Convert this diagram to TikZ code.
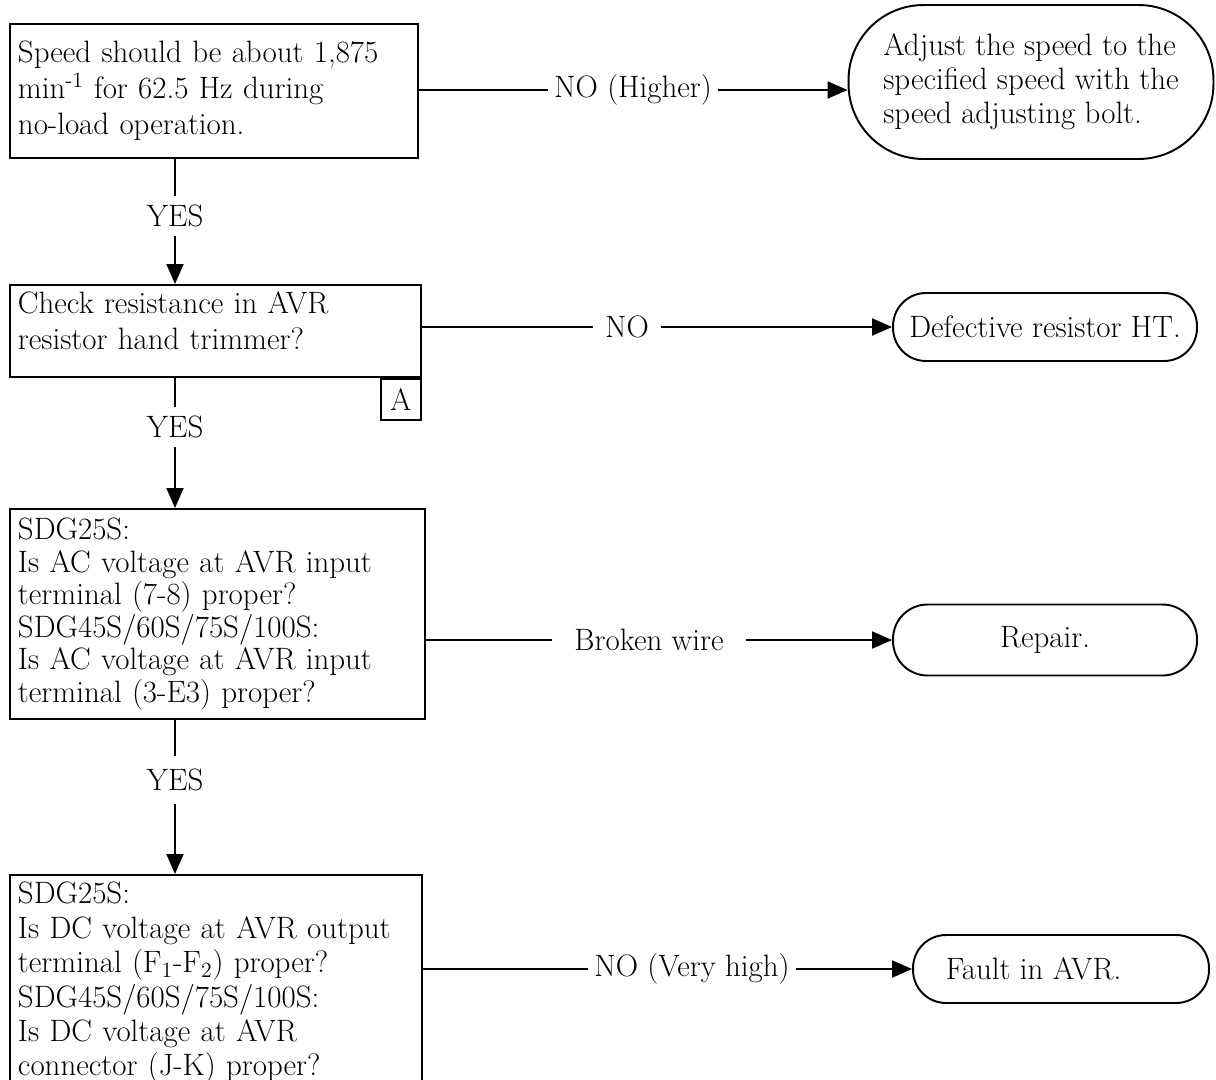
\documentclass[tikz,border=0pt]{standalone}
\usetikzlibrary{arrows.meta}

\begin{document}
\begin{tikzpicture}[x=0.02cm,y=-0.02cm,
    every node/.style={font=\fontsize{17.6}{20.5}\selectfont},
    qbox/.style={draw,line width=1.1pt,anchor=north west,align=left,inner xsep=0.16cm,inner ysep=0pt},
    endbox/.style={draw,line width=1.1pt,rounded corners=#1,align=center,inner sep=0pt},
    lbl/.style={inner xsep=0.1cm,inner ysep=0.18cm},
    conn/.style={line width=1.1pt},
    arr/.style={line width=1.1pt,-{Triangle[length=0.4cm,width=0.34cm]}}]
    \useasboundingbox (0,0) rectangle (1216,1079);
    \clip (0,0) rectangle (1216,1079);

    % question boxes down the left side
    \node[qbox,text width=7.84cm,minimum height=2.68cm] (speed) at (9,23)
        {Speed should be about 1,875\\ min\textsuperscript{-1} for 62.5 Hz during\\ no-load operation.};
    \node[qbox,text width=7.9cm,minimum height=1.84cm] (hand) at (9,284)
        {Check resistance in AVR\\ resistor hand trimmer?\rule[-0.42cm]{0pt}{0.42cm}};
    \node[draw,line width=1.1pt,anchor=north east,minimum width=0.8cm,minimum height=0.82cm,inner sep=0pt] (markA) at (hand.south east) {A};
    \node[qbox,text width=7.98cm,minimum height=4.2cm,font=\fontsize{17.6}{18.5}\selectfont] (acv) at (9,508)
        {SDG25S:\\ Is AC voltage at AVR input\\ terminal (7-8) proper?\\ SDG45S/60S/75S/100S:\\ Is AC voltage at AVR input\\ terminal (3-E3) proper?};
    \node[qbox,text width=7.92cm,minimum height=4.32cm,font=\fontsize{17.6}{19.6}\selectfont] (dcv) at (9,874)
        {SDG25S:\\ Is DC voltage at AVR output\\ terminal (F\textsubscript{1}-F\textsubscript{2}) proper?\\ SDG45S/60S/75S/100S:\\ Is DC voltage at AVR\\ connector (J-K) proper?};

    % results on the right
    \node[endbox=1.5cm,align=left,minimum width=7.3cm,minimum height=3.08cm,font=\fontsize{17.6}{19.4}\selectfont] (adjust) at (1031,82)
        {Adjust the speed to the\\ specified speed with the\\ speed adjusting bolt.};
    \node[endbox=0.66cm,minimum width=6.08cm,minimum height=1.36cm] (faulty) at (1045,327) {Defective resistor HT.};
    \node[endbox=0.69cm,minimum width=6.08cm,minimum height=1.42cm] (repair) at (1045,640) {Repair.};
    \node[endbox=0.66cm,minimum width=5.92cm,minimum height=1.36cm] (avr) at (1061,969) {Fault in AVR.\hspace*{1.1cm}};

    % YES branches
    \node[lbl] (yes1) at (175,216) {YES};
    \node[lbl] (yes2) at (175,427) {YES};
    \node[lbl,inner ysep=0.26cm] (yes3) at (175,780) {YES};
    \draw[conn] (speed.south -| yes1) -- (yes1.north);
    \draw[arr] (yes1.south) -- (hand.north -| yes1);
    \draw[conn] (hand.south -| yes2) -- (yes2.north);
    \draw[arr] (yes2.south) -- (acv.north -| yes2);
    \draw[conn] (acv.south -| yes3) -- (yes3.north);
    \draw[arr] (yes3.south) -- (dcv.north -| yes3);

    % NO branches
    \node[lbl,inner xsep=0.12cm] (nohigh) at (633,90) {NO (Higher)};
    \node[lbl,inner xsep=0.24cm] (nores) at (627,327) {NO};
    \node[lbl,inner xsep=0.44cm] (broken) at (649,640) {Broken wire};
    \node[lbl,inner xsep=0.12cm] (vhigh) at (692,969) {NO (Very high)};
    \draw[conn] (speed.east |- nohigh) -- (nohigh.west);
    \draw[arr] (nohigh.east) -- (nohigh.east -| adjust.west);
    \draw[conn] (hand.east |- faulty.west) -- (nores.west);
    \draw[arr] (nores.east) -- (faulty.west);
    \draw[conn] (acv.east |- repair.west) -- (broken.west);
    \draw[arr] (broken.east) -- (repair.west);
    \draw[conn] (dcv.east |- avr.west) -- (vhigh.west);
    \draw[arr] (vhigh.east) -- (avr.west);
\end{tikzpicture}
\end{document}
